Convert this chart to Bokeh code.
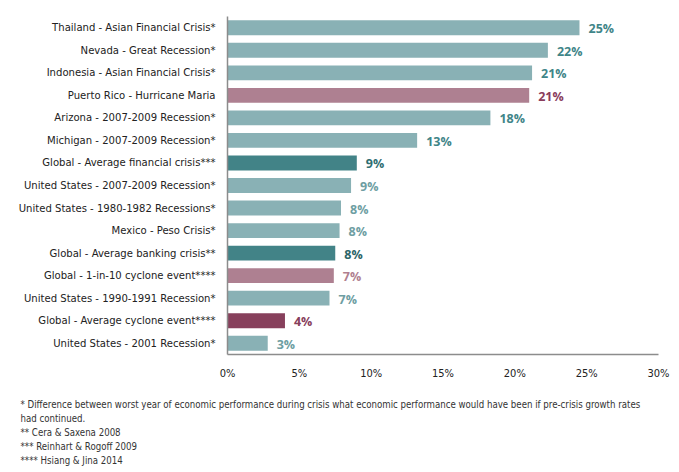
from bokeh.plotting import figure
from bokeh.models import FactorRange, Range1d, FixedTicker, ColumnDataSource, Div
from bokeh.layouts import column
from bokeh.core.properties import value
from bokeh.embed import file_html
from bokeh.resources import INLINE
import html

# ---- data ----
categories = [
    "Thailand - Asian Financial Crisis*",
    "Nevada - Great Recession*",
    "Indonesia - Asian Financial Crisis*",
    "Puerto Rico - Hurricane Maria",
    "Arizona - 2007-2009 Recession*",
    "Michigan - 2007-2009 Recession*",
    "Global - Average financial crisis***",
    "United States - 2007-2009 Recession*",
    "United States - 1980-1982 Recessions*",
    "Mexico - Peso Crisis*",
    "Global - Average banking crisis**",
    "Global - 1-in-10 cyclone event****",
    "United States - 1990-1991 Recession*",
    "Global - Average cyclone event****",
    "United States - 2001 Recession*",
]
values = [24.5, 22.3, 21.2, 21.0, 18.3, 13.2, 9.0, 8.6, 7.9, 7.8, 7.5, 7.4, 7.1, 4.0, 2.8]
value_labels = ["25%", "22%", "21%", "21%", "18%", "13%", "9%", "9%", "8%", "8%", "8%", "7%", "7%", "4%", "3%"]
groups = ["crisis", "crisis", "crisis", "hurricane", "crisis", "crisis", "global_fin",
          "crisis", "crisis", "crisis", "global_fin", "cyclone10", "crisis", "cyclone", "crisis"]
tick_values = [0, 5, 10, 15, 20, 25, 30]
tick_labels = ["0%", "5%", "10%", "15%", "20%", "25%", "30%"]
footnotes = [
    "* Difference between worst year of economic performance during crisis what economic performance would have been if pre-crisis growth rates",
    "had continued.",
    "** Cera & Saxena 2008",
    "*** Reinhart & Rogoff 2009",
    "**** Hsiang & Jina 2014",
]

# ---- styles ----
bar_color_map = {"crisis": "#89b1b5", "global_fin": "#428387", "hurricane": "#ae8091",
                 "cyclone10": "#ae8091", "cyclone": "#87405c"}
label_colors = ["#3f8588", "#3f8588", "#3f8588", "#8a3d5c", "#3f8588", "#3f8588", "#2f6e72",
                "#6e9ea2", "#6e9ea2", "#6e9ea2", "#2c6568", "#b07f90", "#6e9ea2", "#87405c", "#6e9ea2"]
CAT_FONT = "DejaVu Sans Condensed"
W = 671
H_MAIN = 384
H_NOTE = 80

src = ColumnDataSource(dict(
    cat=categories, val=values, lab=value_labels,
    color=[bar_color_map[g] for g in groups], lcolor=label_colors,
))

p = figure(width=W, height=H_MAIN, output_backend="svg", toolbar_location=None,
           y_range=FactorRange(factors=list(reversed(categories)), range_padding=0),
           x_range=Range1d(0, 30),
           min_border_left=227, min_border_right=13, min_border_top=16, min_border_bottom=30)
p.outline_line_color = None
p.xgrid.grid_line_color = None
p.ygrid.grid_line_color = None
p.background_fill_color = "white"
p.border_fill_color = "white"

p.hbar(y="cat", right="val", left=0, height=0.66, fill_color="color", line_color=None, source=src)
p.text(x="val", y="cat", text="lab", x_offset=9, y_offset=1, text_color="lcolor", text_baseline="middle",
       text_font_size="12.5px", text_font_style="bold", text_font=value("Open Sans"), source=src)

xa = p.xaxis[0]
xa.ticker = FixedTicker(ticks=tick_values)
xa.major_label_overrides = {v: t for v, t in zip(tick_values, tick_labels)}
xa.axis_line_color = "#8c8c8c"
xa.axis_line_width = 1.5
xa.major_tick_line_color = None
xa.minor_tick_line_color = None
xa.major_tick_out = 0
xa.major_tick_in = 0
xa.major_label_standoff = 12
xa.major_label_text_font_size = "11px"
xa.major_label_text_color = "#222222"
xa.major_label_text_font = CAT_FONT

ya = p.yaxis[0]
ya.axis_line_color = "#8c8c8c"
ya.axis_line_width = 1.5
ya.major_tick_line_color = None
ya.minor_tick_line_color = None
ya.major_tick_out = 0
ya.major_tick_in = 0
ya.major_label_standoff = 12
ya.major_label_text_font_size = "11.2px"
ya.major_label_text_color = "#222222"
ya.major_label_text_font = CAT_FONT

lines_html = "".join(f"<div>{html.escape(t)}</div>" for t in footnotes)
notes = Div(
    text=lines_html, width=W, height=H_NOTE, margin=0,
    styles={
        "font-family": "'DejaVu Sans Condensed', sans-serif",
        "font-size": "9.6px",
        "line-height": "14px",
        "color": "#333333",
        "white-space": "nowrap",
        "padding-top": "13.5px",
        "padding-left": "20.5px",
        "box-sizing": "border-box",
    },
)

layout = column(p, notes, spacing=0)
open("out.html", "w").write(file_html(layout, INLINE))
